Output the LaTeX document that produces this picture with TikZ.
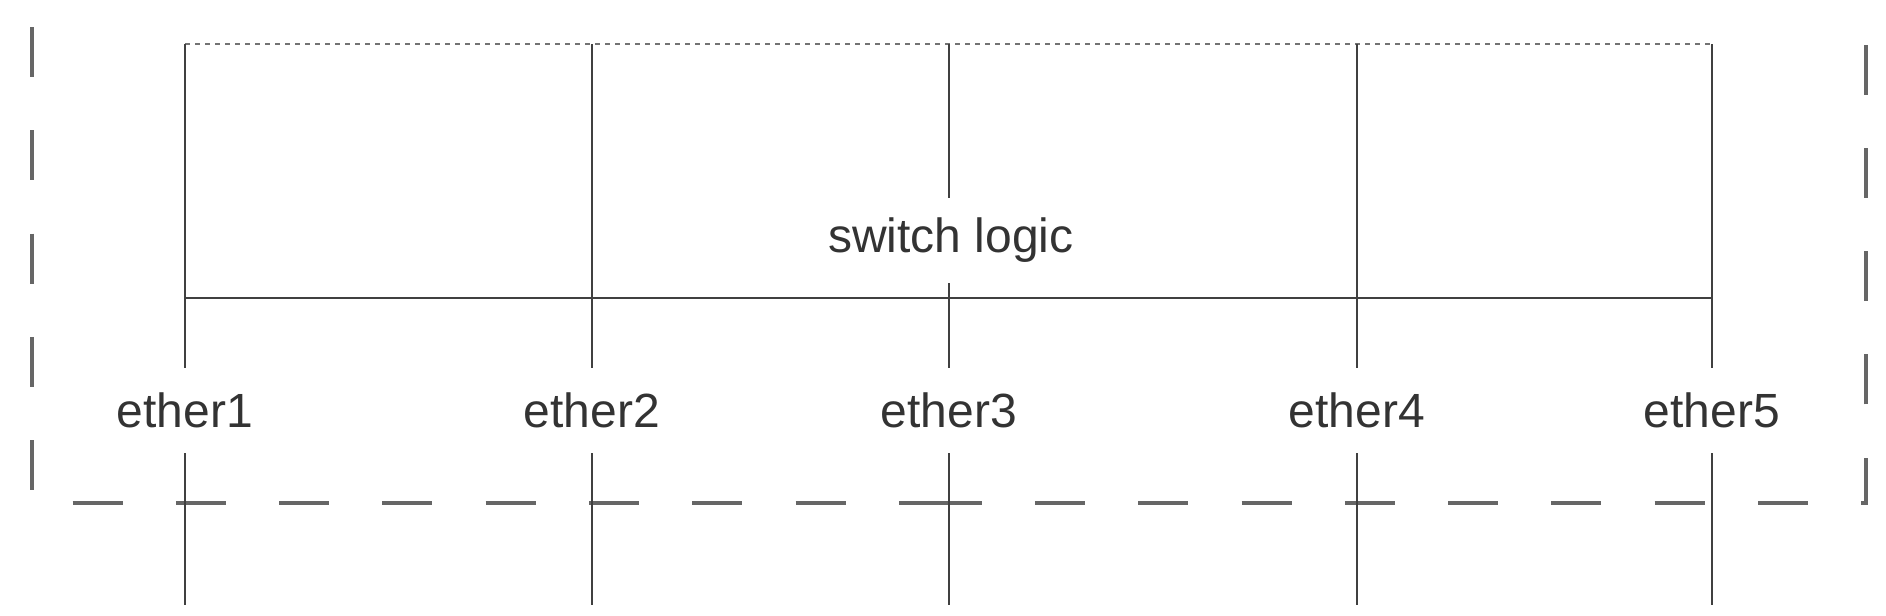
\documentclass[tikz,border=0pt]{standalone}
\usepackage{fontspec}
\setmainfont{Liberation Sans}
\usepackage{tikz}

\begin{document}
\begin{tikzpicture}[
  x=0.5pt, y=-0.5pt,
  port/.style={font=\fontsize{24}{28}\selectfont, text=black!80,
               inner sep=0pt, minimum height=42.5pt},
  wire/.style={draw=black!75, line width=1.4pt},
  topline/.style={draw=black!55, line width=1.4pt, dash pattern=on 2.5pt off 2.5pt},
  zone/.style={draw=black!60, line width=1.6pt, dash pattern=on 25pt off 26.65pt}
]
\useasboundingbox (0,0) rectangle (1886,616);

% top ends of the port lines
\coordinate (t1) at (185,44);
\coordinate (t2) at (592,44);
\coordinate (t3) at (949,44);
\coordinate (t4) at (1357,44);
\coordinate (t5) at (1712,44);
% bus ends
\coordinate (b1) at (185,298);
\coordinate (b5) at (1712,298);
% outer ends of the port lines
\coordinate (d1) at (185,605);
\coordinate (d2) at (592,605);
\coordinate (d3) at (949,605);
\coordinate (d4) at (1357,605);
\coordinate (d5) at (1712,605);

\node[port] (e1) at (185,410.5)  {ether1};
\node[port] (e2) at (592,410.5)  {ether2};
\node[port] (e3) at (949,410.5)  {ether3};
\node[port] (e4) at (1357,410.5) {ether4};
\node[port] (e5) at (1712,410.5) {ether5};

% device outline
\draw[zone] (32,27) -- (32,503) -- (949,503);
\draw[zone] (931.6,503) -- (1866,503) -- (1866,0);

\draw[topline] (t1) -- (t5);
\draw[wire] (b1) -- (b5);
\draw[wire] (t1) -- (e1.north);
\draw[wire] (t2) -- (e2.north);
\draw[wire] (t3) -- (e3.north);
\draw[wire] (t4) -- (e4.north);
\draw[wire] (t5) -- (e5.north);
\draw[wire] (e1.south) -- (d1);
\draw[wire] (e2.south) -- (d2);
\draw[wire] (e3.south) -- (d3);
\draw[wire] (e4.south) -- (d4);
\draw[wire] (e5.south) -- (d5);

\node[port, fill=white, inner xsep=4pt] (sw) at (951,240) {switch logic};
\end{tikzpicture}
\end{document}
